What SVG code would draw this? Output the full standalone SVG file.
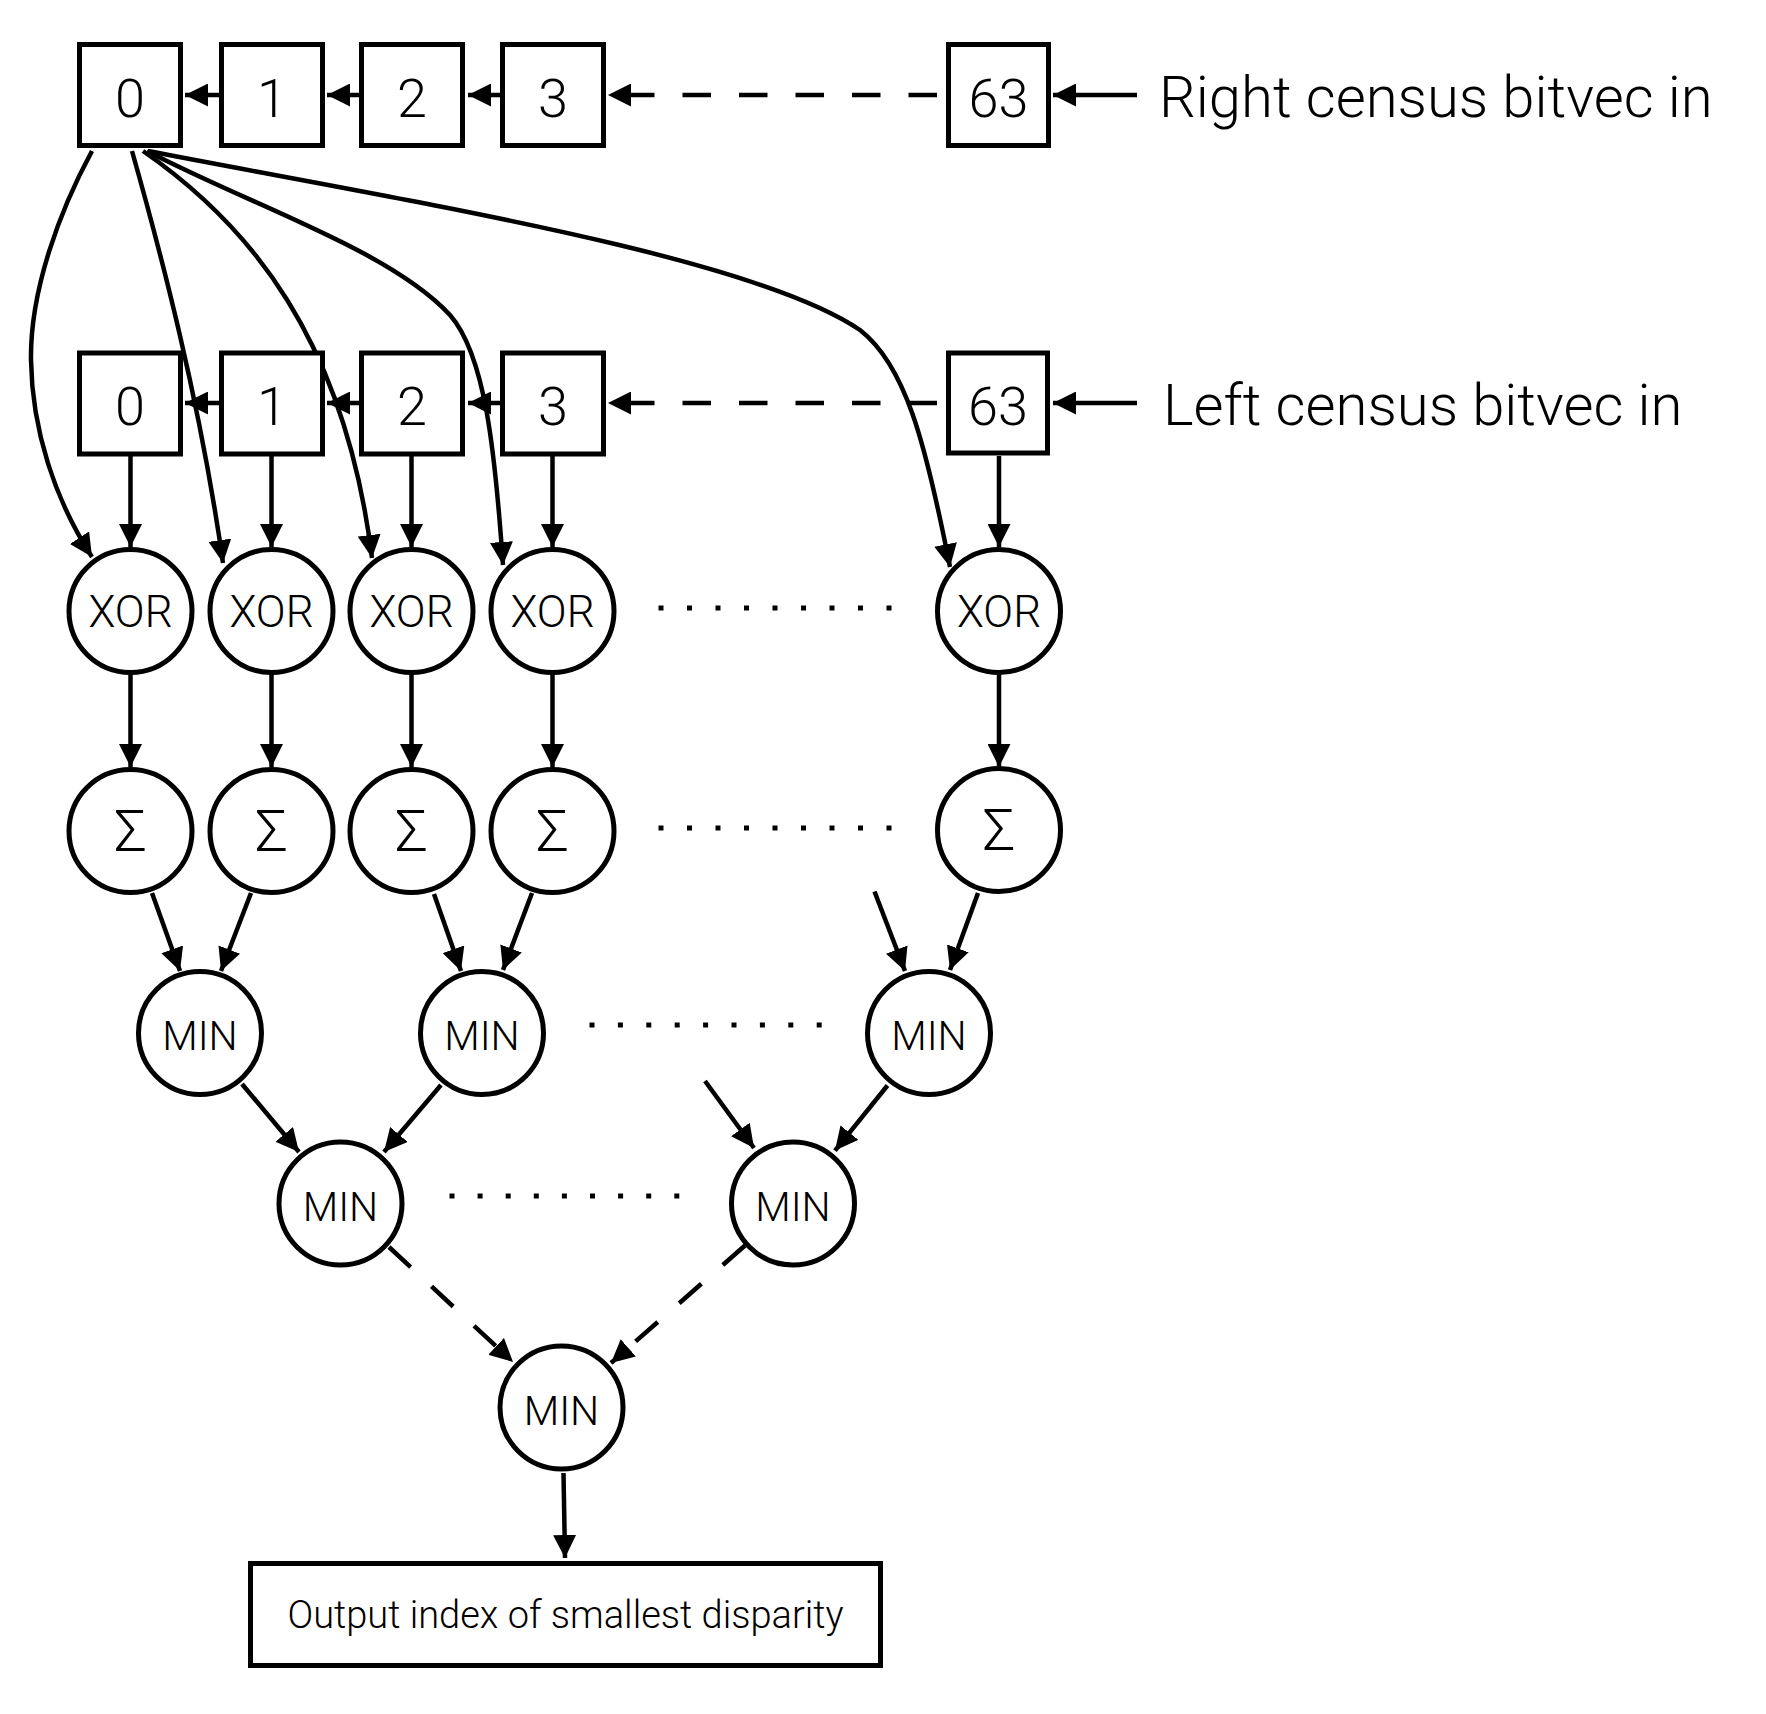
<svg xmlns="http://www.w3.org/2000/svg" width="1766" height="1714" viewBox="0 0 1766 1714">
<style>
.bx{fill:#fff;stroke:#000;stroke-width:5}
.cr{fill:#fff;stroke:#000;stroke-width:5}
.t{font-family:Roboto,"Liberation Sans",sans-serif;font-weight:300;fill:#000;text-anchor:middle}
.dg{font-size:54px}
.lb{font-size:58px;text-anchor:start}
.op{font-size:44px}
.sg{font-size:58px}
.mn{font-size:41px}
.ou{font-size:38px}
.ca{fill:none;stroke:#000;stroke-width:4.5;marker-end:url(#ah)}
.da{stroke-dasharray:28.5 28}
.dot{fill:none;stroke:#000;stroke-width:5}
</style>
<defs>
<marker id="ah" viewBox="0 0 23 23" markerWidth="23" markerHeight="23" refX="23" refY="11.5" orient="auto" markerUnits="userSpaceOnUse"><path d="M0,0 L23,11.5 L0,23 z" fill="#000"/></marker>
</defs>
<rect width="1766" height="1714" fill="#fff"/>

<g id="connectors">
<path class="ca" d="M219,95 H185"/>
<path class="ca" d="M359,95 H327"/>
<path class="ca" d="M500,95 H468"/>
<path class="ca da" d="M937,95 H608"/>
<path class="ca" d="M1137,95 H1053"/>
<path class="ca" d="M219,403 H185"/>
<path class="ca" d="M359,403 H327"/>
<path class="ca" d="M500,403 H468"/>
<path class="ca da" d="M937,403 H608"/>
<path class="ca" d="M1137,403 H1053"/>
<path class="ca" d="M130.5,456 V547"/>
<path class="ca" d="M271.5,456 V547"/>
<path class="ca" d="M411.5,456 V547"/>
<path class="ca" d="M552.5,456 V547"/>
<path class="ca" d="M999,456 V547"/>
<path class="ca" d="M130.5,674 V767"/>
<path class="ca" d="M271.5,674 V767"/>
<path class="ca" d="M411.5,674 V767"/>
<path class="ca" d="M552.5,674 V767"/>
<path class="ca" d="M999,674 V767"/>
<path class="ca" d="M92,151 C60,210 30,290 31,360 C32,430 55,500 92,557"/>
<path class="ca" d="M132,151 C160,250 200,400 223,563"/>
<path class="ca" d="M143,151 C250,225 345,340 372,558"/>
<path class="ca" d="M147,151 C250,205 390,250 450,315 C485,355 495,450 503,565"/>
<path class="ca" d="M148,151 C400,200 750,255 860,330 C905,365 925,440 950,567"/>
<path class="ca" d="M152,893 L180,971"/>
<path class="ca" d="M251,893 L221,971"/>
<path class="ca" d="M434,894 L461,971"/>
<path class="ca" d="M532,893 L503,970"/>
<path class="ca" d="M874.5,891.5 L905,971"/>
<path class="ca" d="M978,893 L950,970"/>
<path class="ca" d="M242,1084 L299,1152"/>
<path class="ca" d="M441,1085 L384,1152"/>
<path class="ca" d="M705,1081 L754,1148"/>
<path class="ca" d="M887.5,1085.5 L835,1150.6"/>
<path class="ca" style="stroke-dasharray:29.5 28.5" d="M389,1247 L513,1362"/>
<path class="ca" style="stroke-dasharray:29.5 28.5" d="M745,1245.5 L611,1363"/>
<path class="ca" d="M563.5,1473 L565,1558"/>
</g>

<g id="dots">
<path class="dot" style="stroke-dasharray:5 23.5" d="M658.5,608 H892"/>
<path class="dot" style="stroke-dasharray:5 23.5" d="M658.5,828 H892"/>
<path class="dot" style="stroke-dasharray:5 23.4" d="M589.5,1025 H822"/>
<path class="dot" style="stroke-dasharray:5 23.1" d="M449.5,1196 H680"/>
</g>

<g id="r0"><rect class="bx" x="79.5" y="44.5" width="101" height="101"/><text class="t dg" x="130" y="117">0</text></g>
<g id="r1"><rect class="bx" x="221.5" y="44.5" width="101" height="101"/><text class="t dg" x="272" y="117">1</text></g>
<g id="r2"><rect class="bx" x="361.5" y="44.5" width="101" height="101"/><text class="t dg" x="412" y="117">2</text></g>
<g id="r3"><rect class="bx" x="502.5" y="44.5" width="101" height="101"/><text class="t dg" x="553" y="117">3</text></g>
<g id="r63"><rect class="bx" x="948.5" y="44.5" width="100" height="101"/><text class="t dg" x="998.5" y="117">63</text></g>
<g id="right-label"><text class="t lb" x="1159" y="117">Right census bitvec in</text></g>

<g id="l0"><rect class="bx" x="79.5" y="353" width="101" height="101"/><text class="t dg" x="130" y="425">0</text></g>
<g id="l1"><rect class="bx" x="221.5" y="353" width="101" height="101"/><text class="t dg" x="272" y="425">1</text></g>
<g id="l2"><rect class="bx" x="361.5" y="353" width="101" height="101"/><text class="t dg" x="412" y="425">2</text></g>
<g id="l3"><rect class="bx" x="502.5" y="353" width="101" height="101"/><text class="t dg" x="553" y="425">3</text></g>
<g id="l63"><rect class="bx" x="948.5" y="353" width="99" height="100"/><text class="t dg" x="998" y="425">63</text></g>
<g id="left-label"><text class="t lb" x="1163" y="425">Left census bitvec in</text></g>

<g id="xor0"><circle class="cr" cx="130.5" cy="611" r="61.5"/><text class="t op" x="130.5" y="627">XOR</text></g>
<g id="xor1"><circle class="cr" cx="271.5" cy="611" r="61.5"/><text class="t op" x="271.5" y="627">XOR</text></g>
<g id="xor2"><circle class="cr" cx="411.5" cy="611" r="61.5"/><text class="t op" x="411.5" y="627">XOR</text></g>
<g id="xor3"><circle class="cr" cx="552.5" cy="611" r="61.5"/><text class="t op" x="552.5" y="627">XOR</text></g>
<g id="xor63"><circle class="cr" cx="999" cy="611" r="61.5"/><text class="t op" x="999" y="627">XOR</text></g>

<g id="sum0"><circle class="cr" cx="130.5" cy="831" r="61.5"/><text class="t sg" x="130.5" y="851">Σ</text></g>
<g id="sum1"><circle class="cr" cx="271.5" cy="831" r="61.5"/><text class="t sg" x="271.5" y="851">Σ</text></g>
<g id="sum2"><circle class="cr" cx="411.5" cy="831" r="61.5"/><text class="t sg" x="411.5" y="851">Σ</text></g>
<g id="sum3"><circle class="cr" cx="552.5" cy="831" r="61.5"/><text class="t sg" x="552.5" y="851">Σ</text></g>
<g id="sum63"><circle class="cr" cx="999" cy="830" r="61.5"/><text class="t sg" x="999" y="850">Σ</text></g>

<g id="min1a"><circle class="cr" cx="200" cy="1033" r="61.5"/><text class="t mn" x="200" y="1050">MIN</text></g>
<g id="min1b"><circle class="cr" cx="482" cy="1033" r="61.5"/><text class="t mn" x="482" y="1050">MIN</text></g>
<g id="min1c"><circle class="cr" cx="929" cy="1033" r="61.5"/><text class="t mn" x="929" y="1050">MIN</text></g>
<g id="min2a"><circle class="cr" cx="340.5" cy="1203.5" r="61.5"/><text class="t mn" x="340.5" y="1220.5">MIN</text></g>
<g id="min2b"><circle class="cr" cx="793" cy="1203.5" r="61.5"/><text class="t mn" x="793" y="1220.5">MIN</text></g>
<g id="min3"><circle class="cr" cx="561.5" cy="1407.5" r="61.5"/><text class="t mn" x="561.5" y="1425">MIN</text></g>

<g id="output"><rect class="bx" x="250.5" y="1563.5" width="630" height="102"/><text class="t ou" x="565.5" y="1628">Output index of smallest disparity</text></g>
</svg>
